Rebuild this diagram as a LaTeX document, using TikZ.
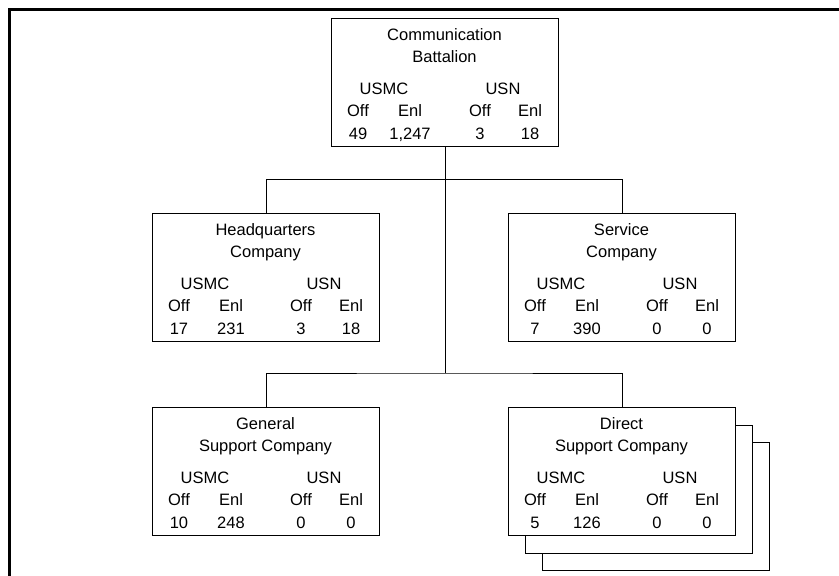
\documentclass[tikz,border=0pt]{standalone}
\usepackage{fontspec}
\setmainfont{Liberation Sans}
\usetikzlibrary{calc}
\tikzset{
  orgbox/.style={draw=black, line width=1pt, fill=white, rectangle, minimum width=227pt, minimum height=128pt, inner sep=0pt, anchor=north west},
  txt/.style={anchor=base, inner sep=0pt, font=\fontsize{16.5}{20}\selectfont},
  conn/.style={draw=black, line width=1pt},
  frameline/.style={draw=black, line width=3pt}
}
\newcommand\orgunit[9]{%
  \node[orgbox] (#1) at (#2,#3) {};
  \node[txt] (#1-ta) at ($(#1.north west)+(113.5,22.5)$) {#4};
  \node[txt] (#1-tb) at ($(#1.north west)+(113.5,44.5)$) {#5};
  \node[txt] (#1-ma) at ($(#1.north west)+(53,76.5)$) {USMC};
  \node[txt] (#1-na) at ($(#1.north west)+(172,76.5)$) {USN};
  \node[txt] (#1-o1) at ($(#1.north west)+(27,98)$) {Off};
  \node[txt] (#1-e1) at ($(#1.north west)+(79,98)$) {Enl};
  \node[txt] (#1-o2) at ($(#1.north west)+(149,98)$) {Off};
  \node[txt] (#1-e2) at ($(#1.north west)+(199,98)$) {Enl};
  \node[txt] (#1-v1) at ($(#1.north west)+(27,121)$) {#6};
  \node[txt] (#1-v2) at ($(#1.north west)+(79,121)$) {#7};
  \node[txt] (#1-v3) at ($(#1.north west)+(149,121)$) {#8};
  \node[txt] (#1-v4) at ($(#1.north west)+(199,121)$) {#9};
}
\begin{document}
\begin{tikzpicture}[x=1pt,y=-1pt]
\useasboundingbox (0,0) rectangle (839,576);
\draw[frameline] (9,578) -- (9,9) -- (841,9);
% connectors
\coordinate (b1) at (445,179.5);
\coordinate (b2) at (445,373);
% shadows of direct support company
\node[orgbox] (ds3) at (542,442) {};
\node[orgbox] (ds2) at (525,424.5) {};
\orgunit{top}{331}{18}{Communication}{Battalion}{49}{1,247}{3}{18}
\orgunit{hq}{152}{213}{Headquarters}{Company}{17}{231}{3}{18}
\orgunit{svc}{508}{213}{Service}{Company}{7}{390}{0}{0}
\orgunit{gs}{152}{407}{General}{Support Company}{10}{248}{0}{0}
\orgunit{ds}{508}{407}{Direct}{Support Company}{5}{126}{0}{0}
\draw[conn] (top.south -| b1) -- (b2);
\draw[conn] (hq.north) |- (b1) -| (svc.north);
\draw[conn] (gs.north) |- (b2) -| (ds.north);
\end{tikzpicture}
\end{document}
